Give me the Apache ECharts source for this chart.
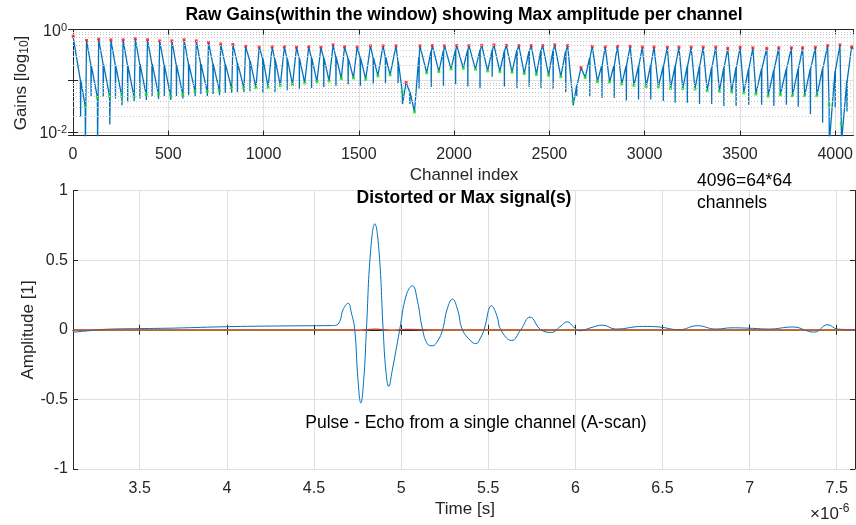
<!DOCTYPE html>
<html><head><meta charset="utf-8">
<script src="https://cdn.jsdelivr.net/npm/echarts@6/dist/echarts.min.js"></script>
<style>html,body{margin:0;padding:0;background:#fff}#c{width:856px;height:525px}</style>
</head><body><div id="c"></div>
<script>
// ---------- Top chart: raw gains per channel (64 groups of 64 channels) ----------
const channelsPerGroup = 64;
const channelCount = 4096;
const groupTrough = [0.74, 0.032, 0.047, 0.05, 0.05, 0.049, 0.053, 0.055, 0.05, 0.054,
  0.063, 0.062, 0.064, 0.072, 0.073, 0.073, 0.074, 0.08, 0.084, 0.09,
  0.096, 0.099, 0.11, 0.113, 0.107, 0.124, 0.13, 0.06, 0.0245, 0.142,
  0.15, 0.17, 0.175, 0.168, 0.155, 0.15, 0.147, 0.138, 0.133, 0.128,
  0.12, 0.04, 0.115, 0.096, 0.094, 0.086, 0.081, 0.077, 0.076, 0.071,
  0.07, 0.069, 0.064, 0.062, 0.06, 0.058, 0.055, 0.05, 0.053, 0.051,
  0.051, 0.051, 0.034, 0.0145];
const groupPeakOffset = [1, 7, 7, 7, 7, 7, 7, 7, 7, 7,
  7, 7, 7, 7, 10, 17, 21, 21, 21, 21,
  21, 21, 17, 19, 25, 27, 31, 20, 29, 30,
  30, 30, 30, 33, 33, 34, 36, 37, 33, 32,
  36, 42, 37, 41, 41, 44, 44, 41, 47, 44,
  44, 43, 45, 44, 45, 48, 57, 56, 58, 53,
  56, 56, 57, 54];
const groupPeak = [0.74, 0.61, 0.65, 0.63, 0.63, 0.66, 0.63, 0.60, 0.60, 0.63,
  0.60, 0.56, 0.52, 0.51, 0.47, 0.455, 0.46, 0.46, 0.45, 0.46,
  0.45, 0.50, 0.46, 0.455, 0.48, 0.48, 0.48, 0.092, 0.48, 0.485,
  0.48, 0.485, 0.485, 0.49, 0.50, 0.49, 0.485, 0.485, 0.485, 0.50,
  0.485, 0.18, 0.47, 0.46, 0.47, 0.47, 0.455, 0.455, 0.45, 0.455,
  0.455, 0.455, 0.455, 0.43, 0.45, 0.44, 0.43, 0.44, 0.44, 0.44,
  0.45, 0.485, 0.50, 0.46];
const groupStartDip = [null, 0.006, 0.006, 0.014, 0.033, 0.04, 0.042, 0.044, 0.042, 0.045,
  0.05, 0.05, 0.052, 0.058, 0.06, null, null, null, null, null,
  null, null, null, null, null, null, null, 0.035, null, null,
  null, null, null, null, null, null, null, null, null, null,
  null, 0.033, null, null, null, null, null, null, null, null,
  null, null, null, null, null, null, null, null, null, null,
  null, null, 0.006, 0.006];
const groupMidDipOffset = [40, 31, 31, 31, 31, 31, 31, 31, 31, 31,
  31, 31, 31, 31, 33, 36, 36, 36, 36, 36,
  36, 36, 36, 36, 40, 40, 42, 40, 24, 24,
  24, 24, 24, 24, 24, 24, 26, 26, 24, 24,
  26, 20, 24, 24, 24, 24, 24, 24, 26, 24,
  24, 24, 24, 24, 24, 26, 30, 30, 32, 30,
  30, 30, 32, 30];
const groupMidDipBase = [0.1, 0.2, 0.21, 0.2, 0.2, 0.21, 0.21, 0.2, 0.2, 0.21,
  0.21, 0.21, 0.21, 0.22, 0.24, 0.27, 0.26, 0.27, 0.27, 0.28,
  0.28, 0.29, 0.27, 0.28, 0.28, 0.29, 0.24, 0.06, 0.3, 0.38,
  0.38, 0.4, 0.4, 0.39, 0.39, 0.38, 0.39, 0.38, 0.39, 0.39,
  0.38, 0.08, 0.28, 0.2, 0.2, 0.2, 0.19, 0.2, 0.19, 0.19,
  0.19, 0.19, 0.18, 0.18, 0.18, 0.17, 0.17, 0.16, 0.17, 0.17,
  0.17, 0.17, 0.155, 0.1];
const groupMidDip = [0.02, 0.05, 0.048, 0.045, 0.038, 0.045, 0.05, 0.05, 0.05, 0.052,
  0.055, 0.055, 0.058, 0.06, 0.062, 0.058, 0.06, 0.065, 0.07, 0.072,
  0.075, 0.08, 0.085, 0.08, 0.085, 0.09, 0.09, 0.035, 0.07, 0.075,
  0.08, 0.085, 0.077, 0.071, 0.12, 0.077, 0.071, 0.075, 0.071, 0.068,
  0.06, 0.05, 0.049, 0.046, 0.046, 0.041, 0.043, 0.043, 0.04, 0.037,
  0.037, 0.035, 0.035, 0.032, 0.032, 0.034, 0.034, 0.032, 0.034, 0.031,
  0.022, 0.015, 0.03, 0.025];
const lastChannelGain = 0.42;
const logMinorGrid = [0.02, 0.03, 0.04, 0.05, 0.06, 0.07, 0.08, 0.09, 0.2, 0.3, 0.4, 0.5, 0.6, 0.7, 0.8, 0.9];

// ---------- Bottom chart: A-scan (time in microseconds, x 1e-6 s) ----------
const timeUs = [3.117, 3.2, 3.3, 3.5, 3.7, 4.0, 4.3, 4.6, 4.625, 4.648, 4.667, 4.696, 4.715, 4.734, 4.752, 4.769, 4.786,
  4.801, 4.824, 4.849, 4.874, 4.897, 4.913, 4.929, 4.948, 4.992, 5.03, 5.065, 5.095, 5.12, 5.15, 5.18, 5.21,
  5.238, 5.265, 5.295, 5.325, 5.352, 5.40, 5.429, 5.455, 5.476, 5.519, 5.55, 5.572, 5.635, 5.687, 5.74, 5.802,
  5.865, 5.91, 5.955, 5.99, 6.026, 6.09, 6.156, 6.232, 6.386, 6.48, 6.596, 6.7, 6.806, 6.9, 7.017, 7.112,
  7.247, 7.371, 7.448, 7.505, 7.605];
const ascanAmp = [-0.018, -0.008, 0.003, 0.008, 0.012, 0.022, 0.027, 0.03, 0.032, 0.06, 0.144, 0.19, 0.12, 0.0, -0.35, -0.526, -0.35,
  0.0, 0.55, 0.761, 0.55, 0.0, -0.3, -0.407, -0.3, 0.0, 0.25, 0.316, 0.2, 0.02, -0.1, -0.115, -0.08,
  0.0, 0.15, 0.22, 0.14, 0.0, -0.08, -0.10, -0.06, 0.0, 0.172, 0.1, 0.0, -0.077, 0.0, 0.091, 0.0,
  -0.019, 0.02, 0.057, 0.02, -0.007, 0.015, 0.033, 0.005, 0.024, 0.02, 0.0, 0.029, 0.005, 0.014, 0.01, 0.005,
  0.02, -0.017, 0.036, 0.005, 0.0];
const otherTimeUs = [3.117, 4.70, 4.76, 4.85, 4.94, 5.03, 5.2, 7.605];
const otherAmpA = [0.0, 0.0, -0.003, 0.004, -0.003, 0.003, 0.0, 0.0];
const otherAmpB = [-0.003, -0.003, -0.005, 0.003, -0.005, 0.002, -0.003, -0.003];

// ---------- build series data ----------
const gainLine = [], peakMarks = [], troughMarks = [];
for (let k = 0; k < groupTrough.length; k++) {
  const s = k * channelsPerGroup;
  const pts = [[s, groupTrough[k]]];
  if (k > 0) troughMarks.push([s, groupTrough[k]]);
  if (groupStartDip[k] !== null) pts.push([s + 1, groupStartDip[k]]);
  pts.push([s + groupPeakOffset[k], groupPeak[k]]);
  peakMarks.push([s + groupPeakOffset[k], groupPeak[k]]);
  const d = s + groupMidDipOffset[k];
  pts.push([d - 1, groupMidDipBase[k]], [d, groupMidDip[k]], [d + 1, groupMidDipBase[k]]);
  pts.sort((a, b) => a[0] - b[0]);
  gainLine.push(...pts);
}
gainLine.push([channelCount - 1, lastChannelGain]);
const ascan = timeUs.map((t, i) => [t, ascanAmp[i]]);
const otherA = otherTimeUs.map((t, i) => [t, otherAmpA[i]]);
const otherB = otherTimeUs.map((t, i) => [t, otherAmpB[i]]);

const FONT = '"Liberation Sans", Arial, Helvetica, sans-serif';
const AX = '#262626', GRID = '#dfdfdf';
const tickIn = {show: true, inside: true, length: 5, lineStyle: {color: AX}};
const axLine = {show: true, lineStyle: {color: AX, width: 1}};
const lbl = {color: AX, fontSize: 16, fontFamily: FONT};

function supLabel(v) {
  const e = Math.log10(v);
  const r = Math.round(e);
  if (Math.abs(e - r) > 1e-6) return '';
  if (r === -1) return '';
  return '10{sup|' + r + '}';
}

const chart = echarts.init(document.getElementById('c'), null, {renderer: 'canvas'});
chart.setOption({
  animation: false,
  backgroundColor: '#fff',
  grid: [
    {left: 73, top: 29.5, width: 782, height: 106},
    {left: 73, top: 190.5, width: 782, height: 278.5}
  ],
  xAxis: [
    {gridIndex: 0, type: 'value', min: 0, max: channelCount, interval: 500, position: 'bottom',
      axisLine: axLine, axisTick: tickIn,
      axisLabel: Object.assign({margin: 11, showMaxLabel: false, formatter: v => String(v)}, lbl),
      splitLine: {show: true, lineStyle: {color: GRID}}},
    {gridIndex: 0, type: 'value', min: 0, max: channelCount, interval: 500, position: 'top',
      axisLine: axLine, axisTick: tickIn, axisLabel: {show: false}, splitLine: {show: false}},
    {gridIndex: 1, type: 'value', min: 3.117, max: 7.605, splitNumber: 9, position: 'bottom',
      axisLine: axLine, axisTick: tickIn,
      axisLabel: Object.assign({margin: 12, showMinLabel: false, showMaxLabel: false}, lbl),
      splitLine: {show: true, lineStyle: {color: GRID}}},
    {gridIndex: 1, type: 'value', min: 3.117, max: 7.605, splitNumber: 9, position: 'top',
      axisLine: axLine, axisTick: tickIn, axisLabel: {show: false}, splitLine: {show: false}}
  ],
  yAxis: [
    {gridIndex: 0, type: 'log', logBase: 10, min: 0.0085, max: 1, position: 'left',
      axisLine: axLine, axisTick: tickIn,
      axisLabel: Object.assign({margin: 6, showMinLabel: false, formatter: supLabel, padding: [4, 0, 0, 0],
        rich: {sup: {fontSize: 11, color: AX, fontFamily: FONT, verticalAlign: 'top', padding: [0, 0, 8, 0]}}}, lbl),
      splitLine: {show: true, lineStyle: {color: GRID}}},
    {gridIndex: 0, type: 'log', logBase: 10, min: 0.0085, max: 1, position: 'right',
      axisLine: axLine, axisTick: tickIn, axisLabel: {show: false}, splitLine: {show: false}},
    {gridIndex: 1, type: 'value', min: -1, max: 1, interval: 0.5, position: 'left',
      axisLine: axLine, axisTick: tickIn, axisLabel: Object.assign({margin: 5}, lbl),
      splitLine: {show: true, lineStyle: {color: GRID}}},
    {gridIndex: 1, type: 'value', min: -1, max: 1, interval: 0.5, position: 'right',
      axisLine: axLine, axisTick: tickIn, axisLabel: {show: false}, splitLine: {show: false}}
  ],
  series: [
    {type: 'line', xAxisIndex: 0, yAxisIndex: 0, data: [], z: 1, silent: true,
      markLine: {silent: true, symbol: 'none', label: {show: false}, animation: false,
        lineStyle: {type: [1, 2], color: '#c8c8c8', width: 1},
        data: logMinorGrid.map(v => ({yAxis: v}))}},
    {type: 'line', xAxisIndex: 0, yAxisIndex: 0, data: gainLine, showSymbol: false, z: 3,
      lineStyle: {color: '#0072BD', width: 1.3}, itemStyle: {color: '#0072BD'}},
    {type: 'scatter', xAxisIndex: 0, yAxisIndex: 0, data: peakMarks, symbol: 'rect', symbolSize: 3, z: 4,
      itemStyle: {color: '#ff1a1a'}},
    {type: 'scatter', xAxisIndex: 0, yAxisIndex: 0, data: troughMarks, symbol: 'rect', symbolSize: 3, z: 4,
      itemStyle: {color: '#16e016'}},
    {type: 'line', xAxisIndex: 2, yAxisIndex: 2, data: otherB, showSymbol: false, smooth: 0.4, z: 2,
      lineStyle: {color: '#EDB120', width: 1}},
    {type: 'line', xAxisIndex: 2, yAxisIndex: 2, data: ascan, showSymbol: false, smooth: 0.45, z: 3,
      lineStyle: {color: '#0072BD', width: 1}},
    {type: 'line', xAxisIndex: 2, yAxisIndex: 2, data: otherA, showSymbol: false, smooth: 0.4, z: 4,
      lineStyle: {color: '#C0392F', width: 1.2}}
  ],
  graphic: [
    {type: 'text', x: 464, y: 15, style: {text: 'Raw Gains(within the window) showing Max amplitude per channel',
      fill: '#000', font: 'bold 17.5px ' + FONT, textAlign: 'center', textVerticalAlign: 'middle'}},
    {type: 'text', x: 464, y: 175, style: {text: 'Channel index', fill: AX, font: '17px ' + FONT,
      textAlign: 'center', textVerticalAlign: 'middle'}},
    {type: 'text', x: 464, y: 198, z: 10, style: {text: 'Distorted or Max signal(s)', fill: '#000',
      font: 'bold 17.5px ' + FONT, textAlign: 'center', textVerticalAlign: 'middle'}},
    {type: 'text', x: 697, y: 181, z: 10, style: {text: '4096=64*64', fill: '#000', font: '17.5px ' + FONT,
      textAlign: 'left', textVerticalAlign: 'middle'}},
    {type: 'text', x: 697, y: 203, z: 10, style: {text: 'channels', fill: '#000', font: '17.5px ' + FONT,
      textAlign: 'left', textVerticalAlign: 'middle'}},
    {type: 'text', x: 476, y: 423, z: 10, style: {text: 'Pulse - Echo from a single channel (A-scan)', fill: '#000',
      font: '17.5px ' + FONT, textAlign: 'center', textVerticalAlign: 'middle'}},
    {type: 'text', x: 465, y: 509, style: {text: 'Time [s]', fill: AX, font: '17px ' + FONT,
      textAlign: 'center', textVerticalAlign: 'middle'}},
    {type: 'text', x: 810, y: 514, style: {text: '×10{sup|-6}', fill: AX, font: '17px ' + FONT,
      textAlign: 'left', textVerticalAlign: 'middle',
      rich: {sup: {fontSize: 12, fill: AX, fontFamily: FONT, padding: [0, 0, 10, 0]}}}},
    {type: 'text', x: 28, y: 330, rotation: Math.PI / 2, style: {text: 'Amplitude [1]', fill: AX, font: '17px ' + FONT,
      textAlign: 'center', textVerticalAlign: 'middle'}},
    {type: 'text', x: 21, y: 83, rotation: Math.PI / 2, style: {text: 'Gains [log{sub|10}]', fill: AX, font: '17px ' + FONT,
      textAlign: 'center', textVerticalAlign: 'middle',
      rich: {sub: {fontSize: 12, fill: AX, fontFamily: FONT, padding: [8, 0, 0, 0]}}}}
  ]
});
</script></body></html>
